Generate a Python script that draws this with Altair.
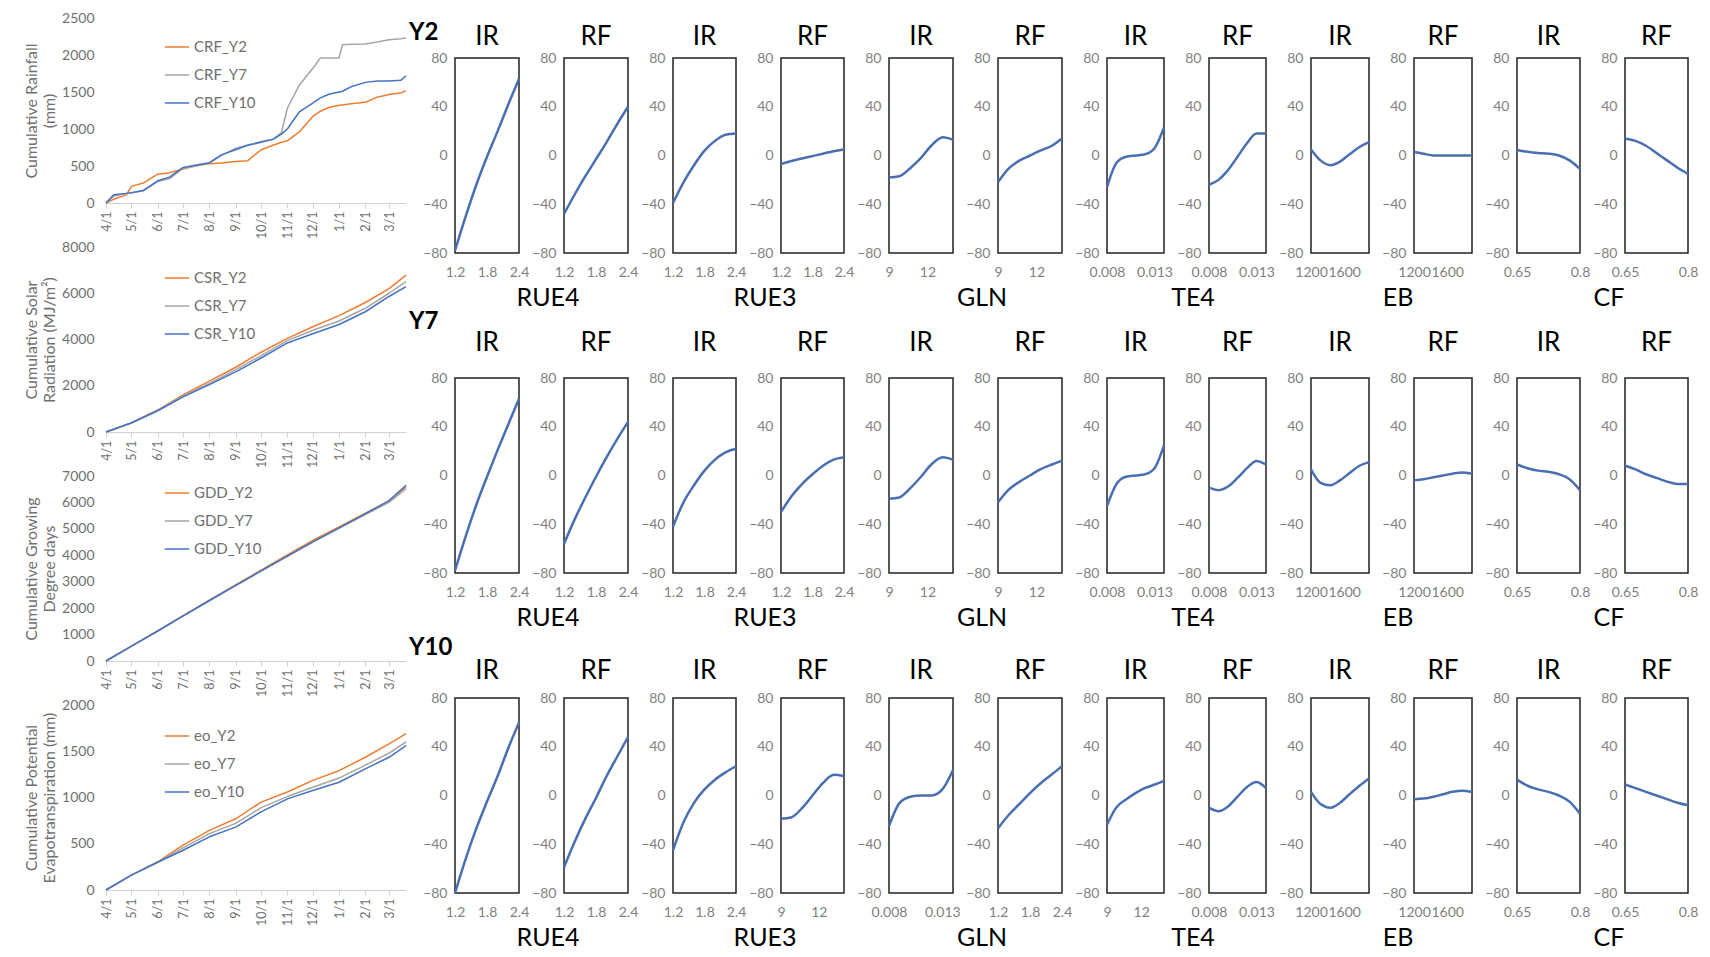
import altair as alt
import pandas as pd

FONT = "Lato"
LGRAY = "#6f6f6f"
RGRAY = "#7f7f7f"
ORANGE = "#ED7D31"
GREY = "#A5A5A5"
BLUE = "#4472C4"
CURVE = "#4A6FB0"

# ---------------- left column data ----------------
RAIN_DATES = ["2021/04/01", "2021/04/10", "2021/04/25", "2021/05/01", "2021/05/15",
              "2021/06/01", "2021/06/15", "2021/07/01", "2021/07/15", "2021/08/01",
              "2021/08/15", "2021/09/01", "2021/09/15", "2021/10/01", "2021/10/15",
              "2021/10/25", "2021/11/01", "2021/11/15", "2021/12/01", "2021/12/10",
              "2021/12/20", "2022/01/01", "2022/01/05", "2022/01/15", "2022/02/01",
              "2022/02/15", "2022/03/01", "2022/03/15", "2022/03/21"]
CRF_Y2 = [0, 50, 110, 225, 270, 390, 410, 460, 500, 530, 540, 560, 570, 720, 780,
          820, 840, 960, 1170, 1240, 1290, 1320, 1325, 1340, 1360, 1430, 1465, 1490, 1515]
CRF_Y7 = [0, 90, 130, 140, 165, 290, 330, 470, 500, 540, 640, 740, 780, 830, 860,
          950, 1280, 1590, 1820, 1960, 1960, 1960, 2140, 2145, 2150, 2175, 2205, 2220, 2230]
CRF_Y10 = [0, 110, 130, 140, 170, 300, 350, 480, 510, 545, 650, 720, 780, 820, 860,
           930, 1000, 1230, 1350, 1420, 1470, 1500, 1510, 1570, 1630, 1650, 1650, 1660, 1720]

MONTH_DATES = ["2021/04/01", "2021/05/01", "2021/06/01", "2021/07/01", "2021/08/01",
               "2021/09/01", "2021/10/01", "2021/11/01", "2021/12/01", "2022/01/01",
               "2022/02/01", "2022/03/01", "2022/03/21"]
CSR_Y2 = [0, 400, 950, 1600, 2200, 2800, 3450, 4050, 4550, 5030, 5600, 6200, 6780]
CSR_Y7 = [0, 400, 930, 1560, 2100, 2700, 3300, 3950, 4400, 4800, 5350, 6000, 6500]
CSR_Y10 = [0, 390, 920, 1520, 2050, 2600, 3200, 3850, 4250, 4650, 5200, 5860, 6290]

GDD_Y2 = [0, 560, 1140, 1720, 2300, 2880, 3440, 4010, 4560, 5070, 5590, 6060, 6600]
GDD_Y7 = [0, 555, 1130, 1700, 2280, 2850, 3400, 3960, 4500, 5020, 5540, 6000, 6520]
GDD_Y10 = [0, 560, 1135, 1710, 2290, 2860, 3410, 3970, 4510, 5040, 5570, 6070, 6650]

EO_Y2 = [0, 160, 305, 485, 645, 770, 950, 1060, 1185, 1290, 1435, 1580, 1690]
EO_Y7 = [0, 160, 300, 455, 610, 720, 890, 1010, 1110, 1210, 1350, 1480, 1600]
EO_Y10 = [0, 160, 300, 430, 575, 680, 845, 985, 1075, 1165, 1310, 1435, 1560]

# ---------------- right panels data ----------------
RUE_X = [1.2, 1.4, 1.6, 1.8, 2.0, 2.2, 2.4]
GLN_X = [9.0, 9.8, 10.7, 11.5, 12.3, 13.2, 14.0]
TE4_X = [0.008, 0.009, 0.010, 0.011, 0.012, 0.013, 0.014]
EB_X = [1200, 1315, 1435, 1550, 1665, 1785, 1900]
CF_X = [0.65, 0.675, 0.70, 0.725, 0.75, 0.775, 0.80]

ROW_LABELS = ["Y2", "Y7", "Y10"]
PAIR_LABELS = ["RUE4", "RUE3", "GLN", "TE4", "EB", "CF"]
PANEL_TITLES = ["IR", "RF"] * 6

Y2_CURVES = [
    [-78, -50, -24, -1, 20, 42, 63],
    [-48, -32, -17, -3, 11, 26, 40],
    [-39, -22, -8, 4, 12, 17, 18],
    [-7, -4.5, -2.5, -0.5, 1.5, 3.5, 5],
    [-18, -17, -10, -2, 8, 15, 13],
    [-22, -11, -4, 0, 4, 8, 14],
    [-26, -6, -1, 0, 1, 6, 23],
    [-24, -20, -12, -1, 10, 18, 18],
    [5, -4, -8, -5, 1, 7, 11],
    [3, 1.5, 0, 0, 0, 0, 0],
    [4.5, 3, 2, 1.5, 0, -4, -11],
    [14, 12, 8, 2, -4, -10, -15],
]
Y7_CURVES = [
    [-78, -50, -24, -1, 21, 42, 63],
    [-56, -36, -18, -1, 15, 30, 44],
    [-42, -22, -8, 4, 13, 19, 22],
    [-30, -17, -7, 1, 8, 13, 15],
    [-19, -18, -10, -1, 9, 15, 13],
    [-22, -12, -5, 0, 5, 9, 12],
    [-25, -7, -1, 0, 1, 6, 25],
    [-10, -12, -9, -2, 6, 12, 9],
    [5, -6, -8, -4, 2, 8, 11],
    [-4, -3, -1.5, 0, 1.5, 2.5, 1.5],
    [9, 6, 4, 3, 1, -3, -12],
    [8, 5, 1, -2, -5, -7, -7],
]
Y10_CURVES = [
    [-80, -52, -27, -5, 16, 39, 60],
    [-59, -38, -19, -2, 16, 32, 48],
    [-45, -22, -6, 5, 13, 19, 24],
    [-19, -18, -10, 0, 10, 17, 16],
    [-25, -6, -1, 0, 0, 5, 21],
    [-27, -16, -7, 2, 10, 17, 24],
    [-24, -10, -3, 2, 6, 9, 12],
    [-10, -13, -9, -1, 7, 11, 6],
    [3, -7, -10, -6, 1, 8, 14],
    [-3, -2.5, -1, 1, 3, 4, 3],
    [13, 8, 5, 3, 0, -5, -15],
    [9, 6, 3, 0, -3, -6, -8],
]
ROW_CURVES = [Y2_CURVES, Y7_CURVES, Y10_CURVES]

ROW_XTYPES = [
    ["RUE", "RUE", "RUE", "RUE", "GLN", "GLN", "TE4", "TE4", "EB", "EB", "CF", "CF"],
    ["RUE", "RUE", "RUE", "RUE", "GLN", "GLN", "TE4", "TE4", "EB", "EB", "CF", "CF"],
    ["RUE", "RUE", "RUE", "GLN", "TE4", "RUE", "GLN", "TE4", "EB", "EB", "CF", "CF"],
]
XSPEC = {
    "RUE": dict(xs=RUE_X, domain=[1.2, 2.4], ticks=[1.2, 1.8, 2.4]),
    "GLN": dict(xs=GLN_X, domain=[9, 14], ticks=[9, 12]),
    "TE4": dict(xs=TE4_X, domain=[0.008, 0.014], ticks=[0.008, 0.013]),
    "EB": dict(xs=EB_X, domain=[1200, 1900], ticks=[1200, 1600]),
    "CF": dict(xs=CF_X, domain=[0.65, 0.80], ticks=[0.65, 0.8]),
}

PANEL_W = [64, 64, 63, 63, 64, 64, 57, 57, 58, 58, 63, 63]
PANEL_H = 195
COL_GAP = 45
ROW_GAP = 125
TITLE_OFFSET = [1, 15, 7]
ROW_LABEL_Y = [-25, -56, -50]


def month_ticks():
    out = []
    for i in range(12):
        m = (4 + i - 1) % 12 + 1
        y = 2021 if m >= 4 else 2022
        out.append(alt.DateTime(year=y, month=m, date=1))
    return out


def left_chart(dates, names, series, ymax, ystep, ytitle, legend_y):
    rows = []
    for n, vals in zip(names, series):
        for d, v in zip(dates, vals):
            rows.append({"date": d, "value": v, "series": n})
    df = pd.DataFrame(rows)
    return alt.Chart(df).mark_line(strokeJoin="round").encode(
        x=alt.X("date:T",
                scale=alt.Scale(domain=[alt.DateTime(year=2021, month=4, date=1),
                                        alt.DateTime(year=2022, month=3, date=21)]),
                axis=alt.Axis(values=month_ticks(), format="%-m/%-d", labelAngle=270,
                              title=None, grid=False, domainColor="#d0d0d0",
                              tickColor="#d0d0d0", tickSize=5, labelColor=LGRAY,
                              labelFontSize=12.5, labelPadding=3, labelFlush=False,
                              labelOverlap=False, labelFont=FONT)),
        y=alt.Y("value:Q", scale=alt.Scale(domain=[0, ymax], nice=False),
                axis=alt.Axis(values=list(range(0, ymax + 1, ystep)), format="d",
                              grid=False, domain=False, ticks=False, title=ytitle,
                              titleFontSize=16, titleColor=LGRAY,
                              titleFontWeight="normal", titlePadding=4,
                              labelPadding=12, labelColor=LGRAY, labelFontSize=14,
                              labelFlush=False, labelFont=FONT, titleFont=FONT)),
        color=alt.Color("series:N",
                        scale=alt.Scale(domain=names, range=[ORANGE, GREY, BLUE]),
                        legend=alt.Legend(orient="none", legendX=58, legendY=legend_y,
                                          title=None, symbolType="stroke",
                                          symbolStrokeWidth=2.5, symbolSize=600,
                                          labelFontSize=15, labelColor=LGRAY,
                                          labelFont=FONT, rowPadding=7)),
        strokeWidth=alt.StrokeWidth("series:N",
                                    scale=alt.Scale(domain=names, range=[1.5, 1.5, 3]),
                                    legend=None),
    ).properties(width=300, height=185)


c1 = left_chart(RAIN_DATES, ["CRF_Y2", "CRF_Y7", "CRF_Y10"], [CRF_Y2, CRF_Y7, CRF_Y10],
                2500, 500, ["Cumulative Rainfall", "(mm)"], 16)
c2 = left_chart(MONTH_DATES, ["CSR_Y2", "CSR_Y7", "CSR_Y10"], [CSR_Y2, CSR_Y7, CSR_Y10],
                8000, 2000, ["Cumulative Solar", "Radiation (MJ/m²)"], 18)
c3 = left_chart(MONTH_DATES, ["GDD_Y2", "GDD_Y7", "GDD_Y10"], [GDD_Y2, GDD_Y7, GDD_Y10],
                7000, 1000, ["Cumulative Growing", "Degree days"], 4)
c4 = left_chart(MONTH_DATES, ["eo_Y2", "eo_Y7", "eo_Y10"], [EO_Y2, EO_Y7, EO_Y10],
                2000, 500, ["Cumulative Potential", "Evapotranspiration (mm)"], 18)
left_col = alt.vconcat(c1, c2, c3, c4, spacing=0).resolve_scale(
    color="independent", strokeWidth="independent"
).resolve_legend(color="independent", strokeWidth="independent")

panels = []
for r in range(3):
    lab = alt.Chart(pd.DataFrame({"label": [ROW_LABELS[r]]})).mark_text(
        align="left", baseline="middle", fontSize=24, fontWeight="bold", font=FONT,
        color="black"
    ).encode(text="label:N", x=alt.value(0), y=alt.value(ROW_LABEL_Y[r])).properties(
        width=1, height=PANEL_H)
    panels.append(lab)
    for c in range(12):
        spec = XSPEC[ROW_XTYPES[r][c]]
        df = pd.DataFrame({"x": spec["xs"], "y": ROW_CURVES[r][c]})
        xkw = dict(values=spec["ticks"], format=".4~r", labelOverlap=False,
                   labelFlush=False, grid=False, domain=False, ticks=False,
                   labelColor=RGRAY, labelFontSize=14, labelPadding=12, labelFont=FONT)
        if c % 2 == 0:
            cx = (PANEL_W[c] + COL_GAP + PANEL_W[c + 1]) / 2 + 6
            xaxis = alt.Axis(title=PAIR_LABELS[c // 2], titleX=cx, titleY=44,
                             titleAlign="center", titleBaseline="middle",
                             titleFontSize=25, titleFontWeight="normal",
                             titleColor="black", titleFont=FONT, **xkw)
        else:
            xaxis = alt.Axis(title=None, **xkw)
        yaxis = alt.Axis(title=None, values=[-80, -40, 0, 40, 80], grid=False,
                         domain=False, ticks=False, labelColor=RGRAY, labelFontSize=14,
                         labelPadding=8, labelFlush=False, labelFont=FONT)
        ch = alt.Chart(df).mark_line(interpolate="monotone", color=CURVE,
                                     strokeWidth=2.5).encode(
            x=alt.X("x:Q", scale=alt.Scale(domain=spec["domain"], nice=False, zero=False),
                    axis=xaxis),
            y=alt.Y("y:Q", scale=alt.Scale(domain=[-80, 80], nice=False), axis=yaxis),
        ).properties(
            width=PANEL_W[c], height=PANEL_H,
            title=alt.TitleParams(text=PANEL_TITLES[c], fontSize=26, font=FONT,
                                  fontWeight="normal", color="black",
                                  offset=TITLE_OFFSET[r]),
            view=alt.ViewBackground(stroke="#222222", strokeWidth=1.5),
        )
        panels.append(ch)

right_grid = alt.concat(*panels, columns=13, spacing={"row": ROW_GAP, "column": COL_GAP},
                        bounds="flush")
spacer = alt.Chart(pd.DataFrame({"t": [0]})).mark_rule(strokeWidth=0, opacity=0).encode(
    x=alt.value(0), x2=alt.value(1), y=alt.value(0)).properties(width=1, height=1)
right = alt.vconcat(spacer, right_grid, spacing=0)

chart = alt.hconcat(left_col, right, spacing=0).configure(
    padding={"left": 15, "top": 2, "right": 2, "bottom": 2}, font=FONT
).configure_view(stroke="transparent")

chart.save("out.html", embed_options={"renderer": "svg", "actions": False})
